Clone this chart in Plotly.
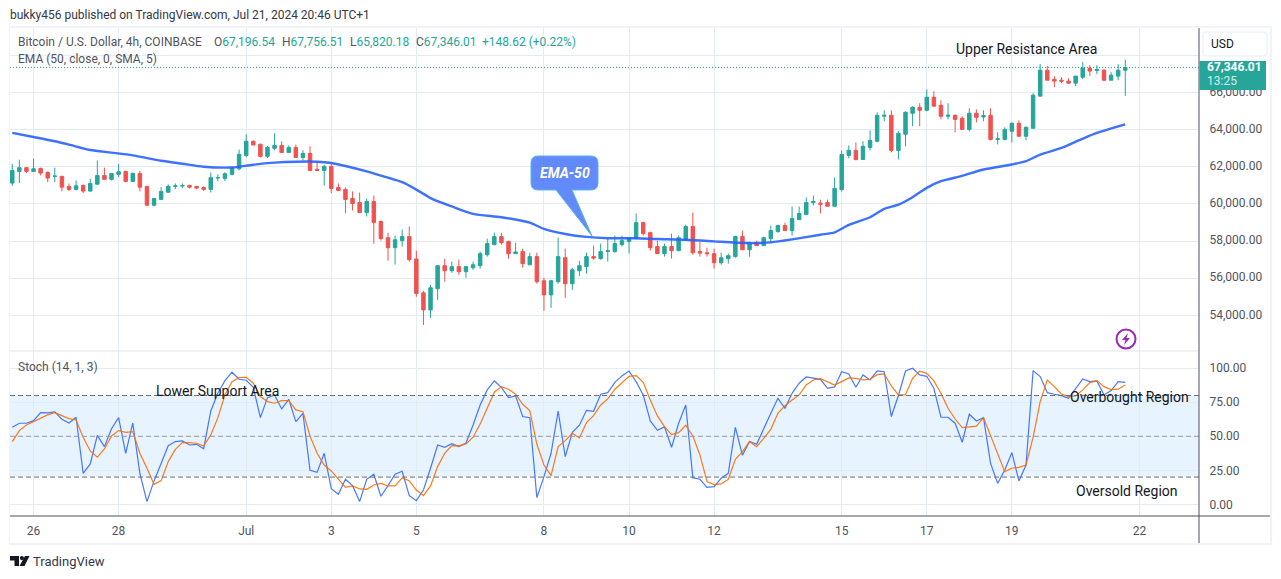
#!/usr/bin/env python3
"""BTC/USD 4h chart with EMA and stochastic panes, redrawn with Plotly."""
import pandas as pd
import plotly.graph_objects as go

W, H = 1281, 579
FONT = "Roboto"
GREY = "#787b86"
TEXT = "#50535e"
UP = "#26a69a"
DOWN = "#ef5350"
GRID = "#e4ecf3"
BLUE = "#2962ff"
ORANGE = "#ff6d00"

# 4h bars, first bar is Jun 25 12:00
first_bar = "2024-06-25 12:00"
opens = [
    61120, 61750, 61950, 61750, 61910, 61690, 61480, 61480, 60940, 60780,
    60990, 60690, 61060, 61530, 61320, 61590, 61750, 61210, 61640, 60940,
    59930, 60240, 60630, 60940, 60960, 60990, 60940, 60880, 60780, 61390,
    61370, 61590, 61890, 62610, 63370, 63210, 62560, 62990, 63150, 62770,
    63040, 62500, 62720, 61860, 61800, 62020, 60880, 60780, 60290, 60070,
    59530, 60130, 59050, 58180, 57640, 58020, 58240, 57030, 55210, 54290,
    55430, 56670, 56400, 56620, 56350, 56560, 56670, 57260, 57800, 58240,
    57970, 57320, 57430, 56720, 57160, 55860, 55100, 55810, 57100, 55700,
    56400, 56620, 57160, 57050, 57440, 57430, 57800, 57970, 58130, 58990,
    58450, 57700, 57320, 57700, 57480, 58070, 58780, 57430, 57370, 57320,
    56830, 57050, 57160, 58240, 57530, 57910, 57750, 58130, 58510, 58830,
    58560, 59150, 59420, 60070, 60040, 60070, 59870, 60770, 62610, 62880,
    62390, 63040, 63370, 64720, 64770, 62880, 63750, 64880, 65200, 65040,
    65740, 65310, 64720, 64770, 64610, 64010, 64880, 64680, 64770, 63470,
    63470, 63910, 64340, 63640, 64070, 65800, 67200, 66710, 66660, 66610,
    66500, 66820, 67310, 67180, 67200, 66660, 66880, 67196.54,
]
highs = [
    62160, 62380, 61980, 62430, 61950, 61750, 61950, 61510, 61100, 61260,
    61060, 61350, 62340, 61950, 61640, 62160, 61780, 61690, 61780, 60940,
    60330, 60900, 61050, 61100, 61100, 61030, 60970, 60940, 61690, 61590,
    61710, 61980, 62920, 63750, 63420, 63240, 63120, 63800, 63370, 63150,
    63190, 62880, 63100, 62250, 62110, 62160, 61100, 60880, 60670, 60610,
    60290, 60450, 59100, 58450, 58290, 58620, 58780, 57480, 55320, 55640,
    56670, 57050, 56890, 57000, 56670, 56890, 57430, 58130, 58450, 58450,
    58020, 57910, 57590, 57370, 57370, 56020, 55910, 58180, 57590, 56560,
    56940, 57370, 57750, 57860, 58130, 58290, 58290, 58180, 59480, 59050,
    58510, 58020, 57860, 58400, 58290, 58880, 59530, 57970, 57640, 57590,
    57370, 57320, 58290, 58560, 57970, 58020, 58240, 58830, 58880, 58990,
    59860, 59860, 60340, 60450, 60230, 60230, 61420, 62880, 63150, 63310,
    63370, 63960, 64930, 65040, 65040, 63910, 64990, 65260, 65420, 66170,
    66070, 65580, 65420, 64820, 64720, 65150, 65090, 65040, 65150, 63850,
    64120, 64390, 64500, 64180, 65960, 67520, 67420, 66880, 66820, 66770,
    66880, 67630, 67470, 67470, 67250, 67090, 67520, 67756.51,
]
lows = [
    60970, 61120, 61660, 61710, 61530, 61170, 61170, 60670, 60690, 60720,
    60580, 60670, 61060, 61320, 61260, 61440, 61170, 61170, 60670, 59930,
    59860, 60240, 60610, 60790, 60850, 60830, 60790, 60690, 60610, 61230,
    61230, 61530, 61800, 62520, 63170, 62500, 62470, 62880, 62770, 62740,
    62500, 62340, 61770, 61770, 60990, 60580, 60720, 59500, 59640, 59530,
    59320, 57860, 58020, 56940, 56730, 57700, 56890, 55000, 53480, 53860,
    54830, 55810, 56290, 56180, 56020, 56450, 56510, 57160, 57800, 57800,
    57050, 57320, 56560, 56720, 55700, 54240, 54400, 55700, 54940, 55370,
    56130, 56240, 56990, 56990, 56890, 57370, 57700, 57320, 58130, 58290,
    57480, 57320, 57160, 57050, 57480, 58020, 57260, 57160, 57160, 56510,
    56720, 56780, 57100, 57530, 57160, 57750, 57750, 57910, 58450, 58560,
    58290, 59150, 59420, 59910, 59480, 59870, 59870, 60660, 62450, 62340,
    62390, 62880, 63310, 64450, 62770, 62390, 63100, 64180, 64180, 64990,
    65260, 64550, 64550, 63850, 64010, 63910, 64390, 64450, 63420, 63200,
    63420, 63310, 63640, 63420, 64070, 65800, 66660, 66280, 66500, 66500,
    66340, 66710, 66880, 66980, 66610, 66660, 66660, 65820.18,
]
closes = [
    61800, 61950, 61750, 61890, 61660, 61390, 61500, 60900, 60780, 60970,
    60690, 61100, 61530, 61320, 61640, 61730, 61210, 61640, 60900, 59930,
    60290, 60670, 60940, 60970, 60990, 60900, 60850, 60780, 61410, 61420,
    61620, 61930, 62670, 63370, 63170, 62560, 63040, 63150, 62770, 63040,
    62500, 62720, 61800, 61800, 62020, 60830, 60720, 60240, 60020, 59530,
    60130, 59000, 58130, 57640, 58070, 58240, 57000, 55180, 54290, 55480,
    56670, 56400, 56620, 56350, 56620, 56720, 57320, 57860, 58240, 57910,
    57320, 57410, 56780, 57160, 55810, 55100, 55860, 57160, 55700, 56450,
    56670, 57160, 57080, 57430, 57480, 57860, 58020, 58180, 58990, 58400,
    57640, 57320, 57700, 57480, 58180, 58780, 57370, 57350, 57320, 56830,
    57100, 57210, 58240, 57530, 57910, 57750, 58180, 58560, 58830, 58560,
    59210, 59480, 60070, 60130, 59980, 59870, 60830, 62660, 62880, 62390,
    63100, 63420, 64770, 64770, 62880, 63800, 64930, 65200, 65040, 65740,
    65260, 64720, 64770, 64550, 64010, 64880, 64660, 64750, 63470, 63510,
    64010, 64340, 63640, 64120, 65850, 67200, 66660, 66610, 66610, 66500,
    66880, 67310, 67150, 67240, 66660, 66930, 67200, 67346.01,
]

# EMA read at these bars only
ema_bars = [
    0, 3, 6, 8, 11, 14, 17, 21, 24, 27, 31, 32, 34, 37, 40, 43, 45, 47, 50, 53,
    55, 57, 59, 62, 65, 69, 73, 75, 78, 81, 84, 88, 91, 95, 99, 102, 105, 107,
    110, 114, 116, 118, 121, 123, 125, 127, 129, 131, 134, 137, 141, 143, 145,
    148, 151, 153, 157,
]
ema_vals = [
    63820, 63600, 63370, 63190, 62900, 62760, 62610, 62320, 62160, 62000, 61960, 62000,
    62110, 62220, 62270, 62270, 62200, 62040, 61750, 61410, 61170, 60770, 60310, 59860,
    59460, 59280, 58990, 58650, 58380, 58220, 58150, 58150, 58110, 58070, 57980, 57910,
    57890, 57930, 58090, 58340, 58470, 58870, 59280, 59730, 59960, 60360, 60860, 61220,
    61510, 61850, 62120, 62300, 62650, 63010, 63510, 63820, 64280,
]

stoch_k = [
    56.6, 59.6, 59.6, 61.5, 67.4, 67.2, 67.9, 62.5, 59.8, 64.0,
    22.8, 29.7, 50.7, 42.4, 55.6, 63.7, 37.5, 59.8, 22.8, 2.0,
    17.2, 30.6, 43.1, 46.1, 46.6, 43.6, 44.1, 40.9, 68.6, 81.6,
    90.9, 97.1, 91.9, 91.2, 86.0, 63.7, 78.4, 80.4, 70.1, 77.2,
    60.8, 66.9, 25.0, 23.5, 37.5, 11.5, 7.4, 18.4, 13.7, 2.0,
    18.4, 22.1, 5.9, 13.7, 22.1, 24.3, 6.4, 2.7, 10.5, 26.5,
    43.6, 41.9, 44.6, 42.4, 45.1, 58.3, 73.0, 84.1, 90.7, 86.0,
    78.4, 79.7, 64.5, 63.7, 4.9, 20.3, 37.5, 68.6, 35.0, 52.9,
    58.1, 69.1, 68.4, 80.9, 82.1, 89.7, 94.4, 98.0, 90.2, 80.4,
    61.3, 54.4, 56.9, 41.9, 59.6, 73.0, 19.6, 18.4, 12.5, 13.0,
    19.1, 22.8, 56.6, 36.0, 46.1, 44.1, 55.9, 66.9, 77.9, 70.6,
    81.6, 89.0, 93.6, 92.9, 91.9, 85.3, 86.3, 97.5, 95.8, 86.0,
    95.1, 91.4, 98.0, 97.5, 64.5, 80.0, 98.0, 100.0, 95.1, 94.1,
    85.3, 64.0, 64.0, 59.6, 45.6, 66.2, 61.3, 63.7, 30.1, 15.4,
    25.2, 38.0, 17.2, 28.9, 98.3, 93.9, 82.1, 80.9, 79.9, 77.9,
    84.6, 92.2, 90.2, 90.7, 80.4, 83.6, 90.2, 89.7,
]
stoch_d = [
    46.1, 54.2, 58.3, 60.8, 63.2, 65.7, 67.4, 65.0, 63.0, 62.0,
    49.3, 39.2, 34.6, 40.7, 50.2, 54.2, 52.9, 53.4, 37.5, 26.5,
    14.7, 17.4, 31.4, 40.4, 45.3, 45.3, 44.9, 42.9, 51.0, 63.7,
    80.4, 90.2, 93.1, 93.4, 89.0, 79.2, 75.5, 74.3, 76.2, 76.2,
    69.4, 68.1, 50.2, 37.5, 28.9, 24.5, 18.4, 12.5, 13.5, 11.3,
    11.0, 14.2, 15.4, 13.5, 13.5, 19.4, 17.4, 10.5, 6.4, 13.5,
    27.7, 37.5, 43.1, 42.9, 44.4, 49.3, 59.1, 71.3, 82.4, 86.5,
    84.6, 80.9, 73.5, 68.9, 44.1, 28.9, 21.1, 42.4, 46.8, 52.2,
    48.8, 60.0, 65.2, 73.0, 77.5, 84.6, 89.2, 94.1, 94.6, 89.7,
    76.7, 65.0, 57.1, 51.2, 52.7, 58.1, 50.2, 36.3, 16.7, 14.5,
    15.0, 18.4, 33.1, 38.7, 46.1, 42.4, 48.5, 55.1, 66.9, 72.5,
    76.7, 80.4, 87.7, 91.4, 92.4, 90.0, 87.7, 90.2, 92.9, 92.6,
    91.4, 91.9, 95.3, 95.8, 87.0, 80.4, 80.6, 92.6, 97.8, 96.3,
    90.7, 81.6, 70.6, 62.7, 56.4, 56.9, 57.4, 63.7, 50.2, 36.3,
    24.0, 26.5, 27.2, 28.9, 49.3, 75.5, 91.4, 86.5, 81.1, 79.2,
    79.7, 84.1, 89.5, 90.9, 86.5, 84.3, 84.6, 87.7,
]

day_ticks = ["2024-06-26", "2024-06-28", "2024-07-01", "2024-07-03", "2024-07-05", "2024-07-08",
             "2024-07-10", "2024-07-12", "2024-07-15", "2024-07-17", "2024-07-19", "2024-07-22"]
day_labels = ["26", "28", "Jul", "3", "5", "8", "10", "12", "15", "17", "19", "22"]
price_ticks = [54000, 56000, 58000, 60000, 62000, 64000, 66000, 68000]
# the 68,000 label sits behind the USD button in the original
price_labels = ["54,000.00", "56,000.00", "58,000.00", "60,000.00", "62,000.00", "64,000.00", "66,000.00", ""]
stoch_ticks = [0, 25, 50, 75, 100]
stoch_levels = [20, 50, 80]
ohlc_labels = ["O", "H", "L", "C"]
ohlc_texts = ["67,196.54", "67,756.51", "65,820.18", "67,346.01"]


def px(x):
    return x / W


def py(y):
    return 1 - y / H


def note(text, x, y, size=12, color=TEXT, anchor="left"):
    return dict(text=text, xref="paper", yref="paper", x=px(x), y=py(y), showarrow=False,
                xanchor=anchor, yanchor="middle", borderpad=0,
                font=dict(family=FONT, size=size, color=color))


def poly(path, fill, line=None, width=0, layer="above"):
    # path given in screen pixels, converted to paper coordinates
    out = []
    for tok in path.split():
        if "," in tok:
            a, b = tok.split(",")
            out.append(f"{px(float(a)):.5f},{py(float(b)):.5f}")
        else:
            out.append(tok)
    return dict(type="path", xref="paper", yref="paper", path=" ".join(out), fillcolor=fill,
                line=dict(color=line or fill, width=width), layer=layer)


def box(x0, y0, x1, y1, fill, line=None, width=0):
    return dict(type="rect", xref="paper", yref="paper", x0=px(x0), x1=px(x1), y0=py(y0), y1=py(y1),
                fillcolor=fill, line=dict(color=line or fill, width=width), layer="above")


times = pd.date_range(first_bar, periods=len(closes), freq="4h")
bar_delta = pd.Timedelta(hours=4)
x_range = [str(times[0] - 0.32 * bar_delta), str(times[0] + 167.4 * bar_delta)]

fig = go.Figure()
fig.add_trace(go.Candlestick(
    x=times, open=opens, high=highs, low=lows, close=closes, xaxis="x", yaxis="y",
    increasing=dict(line=dict(color=UP, width=1), fillcolor=UP),
    decreasing=dict(line=dict(color=DOWN, width=1), fillcolor=DOWN),
    whiskerwidth=0, showlegend=False))
fig.add_trace(go.Scatter(x=times[ema_bars], y=ema_vals, mode="lines", xaxis="x", yaxis="y",
                         line=dict(color=BLUE, width=2.4, shape="spline", smoothing=0.7),
                         opacity=0.9, showlegend=False))
fig.add_trace(go.Scatter(x=times, y=stoch_k, mode="lines", xaxis="x2", yaxis="y2",
                         line=dict(color=BLUE, width=1.2), opacity=0.85, showlegend=False))
fig.add_trace(go.Scatter(x=times, y=stoch_d, mode="lines", xaxis="x2", yaxis="y2",
                         line=dict(color=ORANGE, width=1.2), opacity=0.9, showlegend=False))

shapes = [
    # stochastic band and levels
    dict(type="rect", xref="x2 domain", yref="y2", x0=0, x1=1, y0=min(stoch_levels), y1=max(stoch_levels),
         fillcolor="rgba(33,150,243,0.11)", line=dict(width=0), layer="below"),
    # last price line
    dict(type="line", xref="x domain", yref="y", x0=0, x1=1, y0=closes[-1], y1=closes[-1],
         line=dict(color=UP, width=1, dash="1px,2px"), layer="above"),
]
for lv in stoch_levels:
    # the middle level is fainter than the two outer ones
    lv_color = "#9598a1" if lv == 50 else "#6a6d78"
    shapes.append(dict(type="line", xref="x2 domain", yref="y2", x0=0, x1=1, y0=lv, y1=lv,
                       line=dict(color=lv_color, width=1, dash="5px,3px"), layer="above"))
shapes += [
    # frame of the chart
    box(9, 26, 1272, 28, "#f0f3fa"),
    box(9, 543, 1272, 545, "#f0f3fa"),
    box(9, 26, 10, 545, "#f0f3fa"),
    box(1270, 26, 1272, 545, "#f0f3fa"),
    box(10, 350.5, 1199, 351.5, "#e0e3eb"),
    box(10, 515.5, 1270, 516.5, TEXT),
    box(1198.5, 28, 1199.5, 543, TEXT),
    # currency button and last price tag
    dict(type="path", xref="paper", yref="paper", layer="above", fillcolor="#ffffff",
         line=dict(color="#f0f3fa", width=1.5),
         path=poly("M 1207,32 L 1263,32 Q 1267,32 1267,36 L 1267,52 Q 1267,56 1263,56 "
                   "L 1207,56 Q 1203,56 1203,52 L 1203,36 Q 1203,32 1207,32 Z", "#fff")["path"]),
    box(1199.5, 61, 1266, 90, UP),
    # EMA-50 callout
    poly("M 538,156 L 591,156 Q 598,156 598,163 L 598,183 Q 598,190 591,190 L 572,190 L 592,236 "
         "L 556,190 L 538,190 Q 531,190 531,183 L 531,163 Q 531,156 538,156 Z",
         "rgba(72,117,250,0.85)", "#57b7d6", 1),
    # indicator badge
    dict(type="circle", xref="paper", yref="paper", x0=px(1116.5), x1=px(1135.5), y0=py(329.5), y1=py(348.5),
         line=dict(color="#9c27b0", width=2), fillcolor="#ffffff", layer="above"),
    poly("M 1128,333 L 1122,340 L 1125.5,340 L 1124,345 L 1130,338 L 1126.5,338 Z", "#9c27b0"),
    # footer logo
    poly("M 10,556 L 19,556 L 19,566 L 14.5,566 L 14.5,560.5 L 10,560.5 Z", "#131722"),
    dict(type="circle", xref="paper", yref="paper", x0=px(19.8), x1=px(24), y0=py(556), y1=py(560.2),
         fillcolor="#131722", line=dict(width=0), layer="above"),
    poly("M 25,556 L 29.5,556 L 24.5,566 L 19.5,566 Z", "#131722"),
]

annotations = [
    note("bukky456 published on TradingView.com, Jul 21, 2024 20:46 UTC+1", 9, 15, color="#333844"),
    note("Bitcoin / U.S. Dollar, 4h, COINBASE", 17, 42),
    note("EMA (50, close, 0, SMA, 5)", 17, 59),
    note("Stoch (14, 1, 3)", 17, 367),
    note("Upper Resistance Area", 1026, 49, size=14, color="#131722", anchor="center"),
    note("Lower Support Area", 217, 391, size=14, color="#131722", anchor="center"),
    note("Overbought Region", 1129, 397, size=14, color="#131722", anchor="center"),
    note("Oversold Region", 1127, 491, size=14, color="#131722", anchor="center"),
    note("<b><i>EMA-50</i></b>", 564.5, 173, size=14, color="#ffffff", anchor="center"),
    note("USD", 1222.5, 44, color="#131722", anchor="center"),
    note("<b>67,346.01</b>", 1234, 67, color="#ffffff", anchor="center"),
    note("13:25", 1222, 81, color="#d4efec", anchor="center"),
    note("TradingView", 32, 561, size=13, color="#333844"),
    note("+148.62 (+0.22%)", 481, 42, color=UP),
]
for label, val, x in zip(ohlc_labels, ohlc_texts, [213, 281, 349, 415]):
    annotations.append(note(f'{label}<span style="color:{UP}">{val}</span>', x, 42))

axis_font = dict(family=FONT, size=12, color=TEXT)
common_x = dict(type="date", range=x_range, domain=[px(10), px(1199)], tickvals=day_ticks, showgrid=True,
                gridcolor=GRID, gridwidth=1, zeroline=False, showline=False, rangeslider=dict(visible=False))
common_y = dict(side="right", showgrid=True, gridcolor=GRID, gridwidth=1, zeroline=False, showline=False,
                ticks="outside", ticklen=7, tickcolor="rgba(0,0,0,0)", tickfont=axis_font)

fig.update_layout(
    width=W, height=H, autosize=False, paper_bgcolor="#ffffff", plot_bgcolor="#ffffff",
    margin=dict(l=0, r=0, t=0, b=0), showlegend=False, hovermode=False, boxgap=0.3,
    xaxis=dict(**common_x, anchor="y", showticklabels=False, ticks=""),
    xaxis2=dict(**common_x, anchor="y2", matches="x", ticktext=day_labels, tickfont=axis_font, tickangle=0,
                ticks="outside", ticklen=4, tickcolor="rgba(0,0,0,0)"),
    yaxis=dict(**common_y, anchor="x", domain=[py(351), py(27)], range=[52078, 69524],
               tickvals=price_ticks, ticktext=price_labels, ticklabelshift=-1, fixedrange=True),
    yaxis2=dict(**common_y, anchor="x2", domain=[py(516), py(351)], range=[-8.6, 112.7],
                tickvals=stoch_ticks, tickformat=".2f", fixedrange=True),
    shapes=shapes, annotations=annotations,
)

fig.write_html("out.html", config=dict(displayModeBar=False),
               post_script="document.body.style.margin='0';document.body.style.overflow='hidden';")
print("Wrote out.html")
